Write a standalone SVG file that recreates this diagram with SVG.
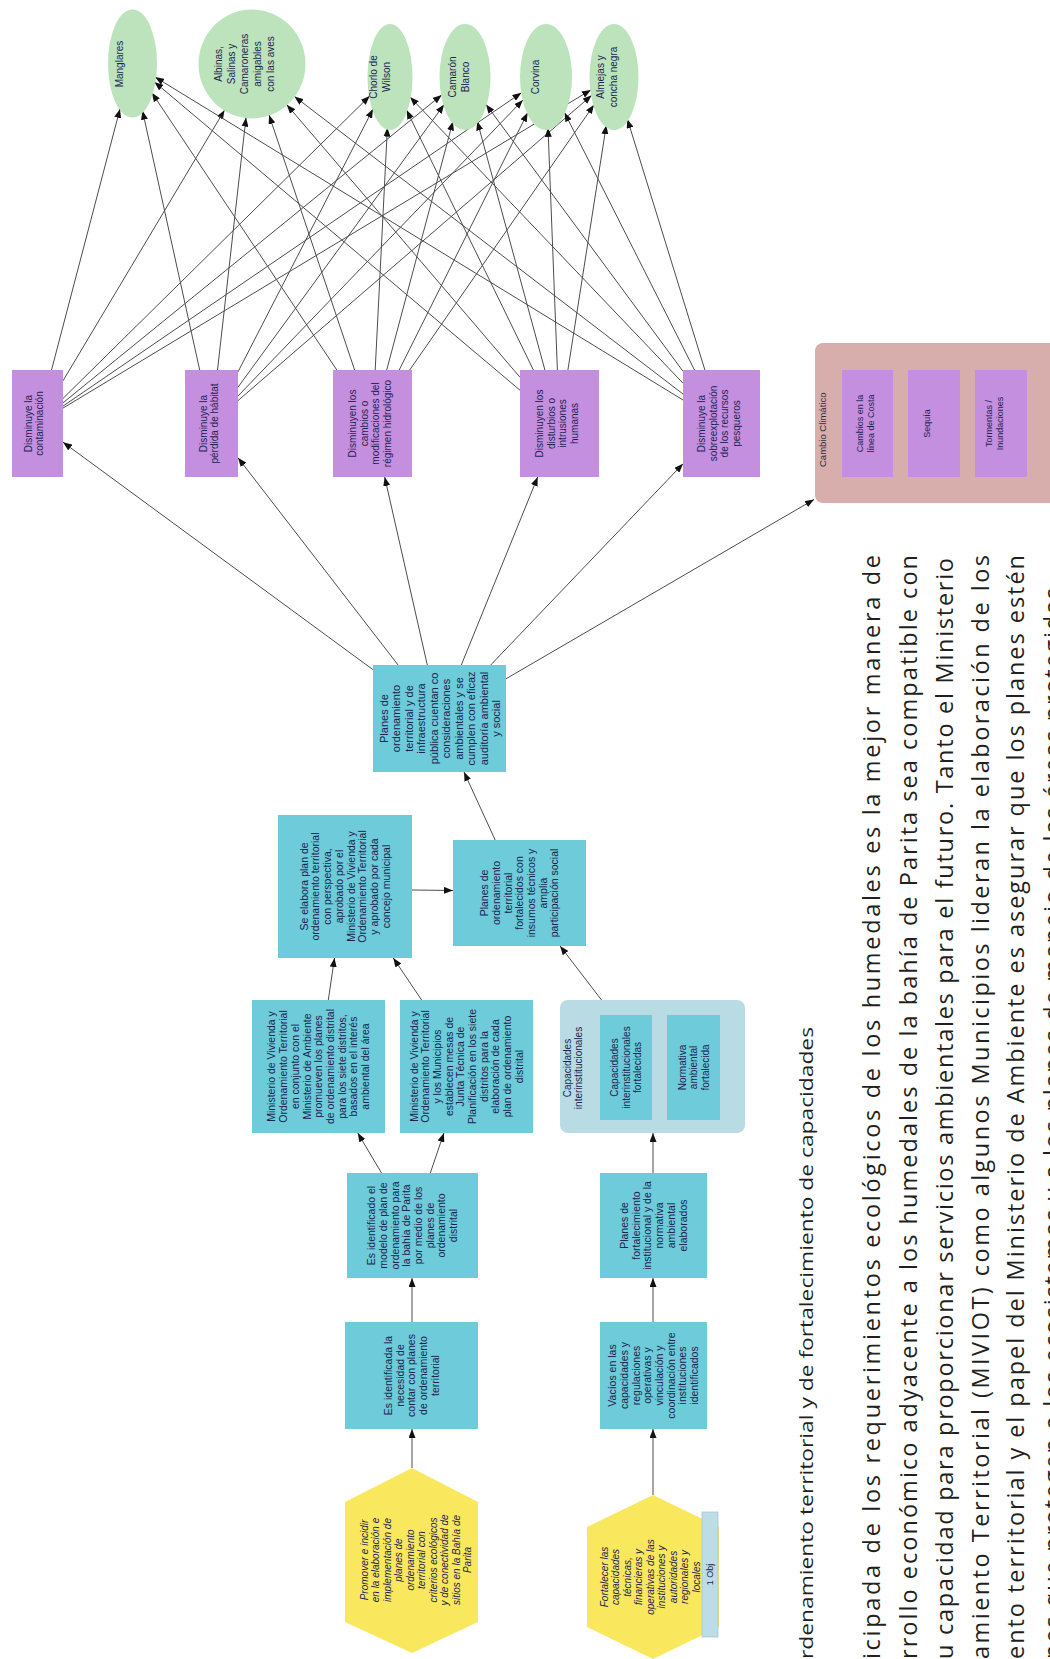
<svg xmlns="http://www.w3.org/2000/svg" width="1050" height="1659" viewBox="0 0 1050 1659">
  <defs>
    <marker id="ah" viewBox="0 0 9 7" refX="9" refY="3.5" markerWidth="9" markerHeight="7" orient="auto" markerUnits="userSpaceOnUse">
      <path d="M0,0 L9,3.5 L0,7 z" fill="#111"/>
    </marker>
    <style>
      .ell { fill:#bce3bc; }
      .pur { fill:#c58fe0; }
      .teal { fill:#6ecbd9; }
      .hex { fill:#f9e75e; }
      .grp-cc { fill:#d7aeab; }
      .grp-cap { fill:#b9dbe3; }
      .obj { fill:#bcdde5; stroke:#a9c9d2; stroke-width:0.8; }
      .t { font-family:"Liberation Sans", Arial, sans-serif; font-size:10.5px; fill:#1b2350; text-anchor:middle; }
      .ts { font-size:10px; }
      .tx { font-size:9px; }
      .ti { font-style:italic; font-size:10px; }
      .tb { font-size:11px; }
      .lbl { font-family:"Liberation Sans", Arial, sans-serif; font-size:9.5px; fill:#2a2a3a; }
      .body { font-family:"Open Sans", "Liberation Sans", sans-serif; fill:#231f20; }
      .conn line { stroke:#4d4d4d; stroke-width:1; fill:none; marker-end:url(#ah); }
    </style>
  </defs>
  <rect width="1050" height="1659" fill="#ffffff"/>

  <!-- connectors -->
  <g id="connectors" class="conn">
    <!-- threats to targets -->
    <line x1="51.5" y1="370" x2="120" y2="108.9"/>
    <line x1="63" y1="380.8" x2="224.5" y2="110.2"/>
    <line x1="63" y1="398.4" x2="369.7" y2="96"/>
    <line x1="63" y1="402.8" x2="441.7" y2="94.9"/>
    <line x1="63" y1="406.1" x2="521.4" y2="92.8"/>
    <line x1="63" y1="408.1" x2="590.9" y2="89.9"/>
    <line x1="199.7" y1="370" x2="142.5" y2="110.7"/>
    <line x1="217.5" y1="370" x2="246" y2="117.6"/>
    <line x1="238" y1="371.9" x2="373" y2="109.1"/>
    <line x1="238" y1="387.2" x2="444.1" y2="104.6"/>
    <line x1="238" y1="396" x2="522.9" y2="100"/>
    <line x1="238" y1="400.6" x2="591.7" y2="95.3"/>
    <line x1="336.8" y1="370" x2="151.9" y2="92.8"/>
    <line x1="354.6" y1="370" x2="269.1" y2="115.1"/>
    <line x1="375.2" y1="370" x2="387.4" y2="127.6"/>
    <line x1="386.7" y1="370" x2="452.9" y2="121.5"/>
    <line x1="399.2" y1="370" x2="527.6" y2="112.8"/>
    <line x1="409.7" y1="370" x2="594" y2="104.8"/>
    <line x1="520" y1="390.2" x2="154.4" y2="81.9"/>
    <line x1="520" y1="377.3" x2="286.8" y2="104.7"/>
    <line x1="533.4" y1="370" x2="406.6" y2="110.1"/>
    <line x1="544.9" y1="370" x2="477.3" y2="121.3"/>
    <line x1="557.4" y1="370" x2="548" y2="127.8"/>
    <line x1="567.9" y1="370" x2="606.3" y2="125.2"/>
    <line x1="683" y1="400" x2="155.1" y2="77.1"/>
    <line x1="683" y1="394" x2="294.4" y2="96.4"/>
    <line x1="683" y1="383.2" x2="410.1" y2="97.1"/>
    <line x1="683" y1="371.3" x2="486" y2="104.4"/>
    <line x1="694.5" y1="370" x2="564.5" y2="112.6"/>
    <line x1="704.9" y1="370" x2="627.4" y2="119.2"/>
    <!-- result to threats -->
    <line x1="373" y1="669.7" x2="63" y2="442.2"/>
    <line x1="398.1" y1="665" x2="238" y2="457.8"/>
    <line x1="427.3" y1="665" x2="384.7" y2="477"/>
    <line x1="461.3" y1="665" x2="537.7" y2="477"/>
    <line x1="490.7" y1="665" x2="683" y2="463.8"/>
    <line x1="506" y1="678.8" x2="814" y2="499.5"/>
    <!-- strategy chains -->
    <line x1="495.2" y1="840" x2="464" y2="772"/>
    <line x1="412" y1="890" x2="453" y2="890.5"/>
    <line x1="601.5" y1="1000" x2="560.1" y2="946"/>
    <line x1="328.3" y1="1000" x2="334.5" y2="958"/>
    <line x1="421.6" y1="1000" x2="393.3" y2="958"/>
    <line x1="381.5" y1="1173" x2="357.8" y2="1133"/>
    <line x1="430.3" y1="1173" x2="443.9" y2="1133"/>
    <line x1="412" y1="1322" x2="412" y2="1278"/>
    <line x1="412" y1="1468" x2="412" y2="1429"/>
    <line x1="653" y1="1173" x2="653" y2="1133"/>
    <line x1="653" y1="1322" x2="653" y2="1278"/>
    <line x1="653" y1="1495" x2="653" y2="1429"/>
  </g>

  <!-- conservation targets -->
  <g id="t-manglares">
    <ellipse class="ell" cx="132.5" cy="63.5" rx="24.5" ry="54"/>
    <text class="t ts" transform="translate(119,64) rotate(-90)" y="3.5">Manglares</text>
  </g>
  <g id="t-albinas">
    <ellipse class="ell" cx="252" cy="64" rx="53.5" ry="54.5"/>
    <text class="t ts" transform="translate(244,64) rotate(-90)" y="-22.5"><tspan x="0">Albinas,</tspan><tspan x="0" dy="13">Salinas y</tspan><tspan x="0" dy="13">Camaroneras</tspan><tspan x="0" dy="13">amigables</tspan><tspan x="0" dy="13">con las aves</tspan></text>
  </g>
  <g id="t-chorlo">
    <ellipse class="ell" cx="390" cy="77" rx="22.5" ry="53"/>
    <text class="t ts" transform="translate(380,77) rotate(-90)" y="-3"><tspan x="0">Chorlo de</tspan><tspan x="0" dy="13">Wilson</tspan></text>
  </g>
  <g id="t-camaron">
    <ellipse class="ell" cx="465" cy="77" rx="25.5" ry="53"/>
    <text class="t ts" transform="translate(459,77) rotate(-90)" y="-3"><tspan x="0">Camarón</tspan><tspan x="0" dy="13">Blanco</tspan></text>
  </g>
  <g id="t-corvina">
    <ellipse class="ell" cx="546" cy="77" rx="26" ry="53"/>
    <text class="t ts" transform="translate(535,77) rotate(-90)" y="3.5">Corvina</text>
  </g>
  <g id="t-almejas">
    <ellipse class="ell" cx="614" cy="77" rx="24.5" ry="53"/>
    <text class="t ts" transform="translate(607,77) rotate(-90)" y="-3"><tspan x="0">Almejas y</tspan><tspan x="0" dy="13">concha negra</tspan></text>
  </g>

  <!-- threats -->
  <g id="a-contaminacion">
    <rect class="pur" x="12" y="370" width="51" height="107"/>
    <text class="t ts" transform="translate(34,423.5) rotate(-90)" y="-2.2"><tspan x="0">Disminuye la</tspan><tspan x="0" dy="11.5">contaminación</tspan></text>
  </g>
  <g id="a-habitat">
    <rect class="pur" x="185" y="370" width="53" height="107"/>
    <text class="t ts" transform="translate(209,423.5) rotate(-90)" y="-2.2"><tspan x="0">Disminuye la</tspan><tspan x="0" dy="11.5">pérdida de hábitat</tspan></text>
  </g>
  <g id="a-hidrologico">
    <rect class="pur" x="333" y="370" width="79" height="107"/>
    <text class="t ts" transform="translate(370,423.5) rotate(-90)" y="-13.7"><tspan x="0">Disminuyen los</tspan><tspan x="0" dy="11.5">cambios o</tspan><tspan x="0" dy="11.5">modificaciones del</tspan><tspan x="0" dy="11.5">régimen hidrológico</tspan></text>
  </g>
  <g id="a-disturbios">
    <rect class="pur" x="520" y="370" width="79" height="107"/>
    <text class="t ts" transform="translate(557,423.5) rotate(-90)" y="-13.7"><tspan x="0">Disminuyen los</tspan><tspan x="0" dy="11.5">disturbios o</tspan><tspan x="0" dy="11.5">intrusiones</tspan><tspan x="0" dy="11.5">humanas</tspan></text>
  </g>
  <g id="a-sobreexplotacion">
    <rect class="pur" x="683" y="370" width="77" height="107"/>
    <text class="t ts" transform="translate(719,423.5) rotate(-90)" y="-13.7"><tspan x="0">Disminuye la</tspan><tspan x="0" dy="11.5">sobreexplotación</tspan><tspan x="0" dy="11.5">de los recursos</tspan><tspan x="0" dy="11.5">pesqueros</tspan></text>
  </g>

  <!-- climate change group -->
  <g id="g-cambio-climatico">
    <rect class="grp-cc" x="815" y="343" width="245" height="160" rx="8"/>
    <text class="lbl" transform="translate(826,467) rotate(-90)">Cambio Climático</text>
    <g id="cc-costa">
      <rect class="pur" x="842" y="370" width="51" height="107"/>
      <text class="t tx" transform="translate(865,423.5) rotate(-90)" y="-2"><tspan x="0">Cambios en la</tspan><tspan x="0" dy="11">línea de Costa</tspan></text>
    </g>
    <g id="cc-sequia">
      <rect class="pur" x="908" y="370" width="52" height="107"/>
      <text class="t tx" transform="translate(927,423.5) rotate(-90)" y="3">Sequía</text>
    </g>
    <g id="cc-tormentas">
      <rect class="pur" x="975" y="370" width="52" height="107"/>
      <text class="t tx" transform="translate(994,423.5) rotate(-90)" y="-2"><tspan x="0">Tormentas /</tspan><tspan x="0" dy="11">Inundaciones</tspan></text>
    </g>
  </g>

  <!-- results -->
  <g id="r-planes-infraestructura">
    <rect class="teal" x="373" y="665" width="133" height="107"/>
    <text class="t tb" transform="translate(440,718.5) rotate(-90)" y="-52.4"><tspan x="0">Planes de</tspan><tspan x="0" dy="12.5">ordenamiento</tspan><tspan x="0" dy="12.5">territorial y de</tspan><tspan x="0" dy="12.5">infraestructura</tspan><tspan x="0" dy="12.5">pública cuentan co</tspan><tspan x="0" dy="12.5">consideraciones</tspan><tspan x="0" dy="12.5">ambientales y se</tspan><tspan x="0" dy="12.5">cumplen con eficaz</tspan><tspan x="0" dy="12.5">auditoría ambiental</tspan><tspan x="0" dy="12.5">y social</tspan></text>
  </g>
  <g id="r-se-elabora">
    <rect class="teal" x="278" y="815" width="134" height="143"/>
    <text class="t" transform="translate(345,886.5) rotate(-90)" y="-37.3"><tspan x="0">Se elabora plan de</tspan><tspan x="0" dy="11.7">ordenamiento territorial</tspan><tspan x="0" dy="11.7">con perspectiva,</tspan><tspan x="0" dy="11.7">aprobado por el</tspan><tspan x="0" dy="11.7">Ministerio de Vivienda y</tspan><tspan x="0" dy="11.7">Ordenamiento Territorial</tspan><tspan x="0" dy="11.7">y aprobado por cada</tspan><tspan x="0" dy="11.7">concejo municipal</tspan></text>
  </g>
  <g id="r-planes-fortalecidos">
    <rect class="teal" x="453" y="840" width="133" height="106"/>
    <text class="t" transform="translate(519.5,893) rotate(-90)" y="-31.4"><tspan x="0">Planes de</tspan><tspan x="0" dy="11.7">ordenamiento</tspan><tspan x="0" dy="11.7">territorial</tspan><tspan x="0" dy="11.7">fortalecidos con</tspan><tspan x="0" dy="11.7">insumos técnicos y</tspan><tspan x="0" dy="11.7">amplia</tspan><tspan x="0" dy="11.7">participación social</tspan></text>
  </g>
  <g id="r-ministerio-ambiente">
    <rect class="teal" x="252" y="1000" width="133" height="133"/>
    <text class="t" transform="translate(318.5,1066.5) rotate(-90)" y="-43.1"><tspan x="0">Ministerio de Vivienda y</tspan><tspan x="0" dy="11.7">Ordenamiento Territorial</tspan><tspan x="0" dy="11.7">en conjunto con el</tspan><tspan x="0" dy="11.7">Ministerio de Ambiente</tspan><tspan x="0" dy="11.7">promueven los planes</tspan><tspan x="0" dy="11.7">de ordenamiento distrital</tspan><tspan x="0" dy="11.7">para los siete distritos,</tspan><tspan x="0" dy="11.7">basados en el interés</tspan><tspan x="0" dy="11.7">ambiental del área</tspan></text>
  </g>
  <g id="r-mesas-tecnicas">
    <rect class="teal" x="400" y="1000" width="133" height="133"/>
    <text class="t" transform="translate(466.5,1066.5) rotate(-90)" y="-49"><tspan x="0">Ministerio de Vivienda y</tspan><tspan x="0" dy="11.7">Ordenamiento Territorial</tspan><tspan x="0" dy="11.7">y los Municipios</tspan><tspan x="0" dy="11.7">establecen mesas de</tspan><tspan x="0" dy="11.7">Junta Técnica de</tspan><tspan x="0" dy="11.7">Planificación en los siete</tspan><tspan x="0" dy="11.7">distritos para la</tspan><tspan x="0" dy="11.7">elaboración de cada</tspan><tspan x="0" dy="11.7">plan de ordenamiento</tspan><tspan x="0" dy="11.7">distrital</tspan></text>
  </g>
  <g id="r-modelo-plan">
    <rect class="teal" x="347" y="1173" width="131" height="105"/>
    <text class="t" transform="translate(412.5,1225.5) rotate(-90)" y="-37.3"><tspan x="0">Es identificado el</tspan><tspan x="0" dy="11.7">modelo de plan de</tspan><tspan x="0" dy="11.7">ordenamiento para</tspan><tspan x="0" dy="11.7">la bahía de Parita</tspan><tspan x="0" dy="11.7">por medio de los</tspan><tspan x="0" dy="11.7">planes de</tspan><tspan x="0" dy="11.7">ordenamiento</tspan><tspan x="0" dy="11.7">distrital</tspan></text>
  </g>
  <g id="r-necesidad">
    <rect class="teal" x="345" y="1322" width="133" height="107"/>
    <text class="t" transform="translate(411.5,1375.5) rotate(-90)" y="-19.7"><tspan x="0">Es identificada la</tspan><tspan x="0" dy="11.7">necesidad de</tspan><tspan x="0" dy="11.7">contar con planes</tspan><tspan x="0" dy="11.7">de ordenamiento</tspan><tspan x="0" dy="11.7">territorial</tspan></text>
  </g>

  <!-- institutional capacity chain -->
  <g id="g-capacidades">
    <rect class="grp-cap" x="560" y="1000" width="185" height="133" rx="8"/>
    <text class="t ts" transform="translate(573,1068) rotate(-90)" y="-2.2"><tspan x="0">Capacidades</tspan><tspan x="0" dy="11.5">interinstitucionales</tspan></text>
    <g id="r-capacidades-fortalecidas">
      <rect class="teal" x="600" y="1015" width="52" height="105"/>
      <text class="t ts" transform="translate(626,1067.5) rotate(-90)" y="-8"><tspan x="0">Capacidades</tspan><tspan x="0" dy="11.5">interinstitucionales</tspan><tspan x="0" dy="11.5">fortalecidas</tspan></text>
    </g>
    <g id="r-normativa">
      <rect class="teal" x="667" y="1015" width="53" height="105"/>
      <text class="t ts" transform="translate(693.5,1067.5) rotate(-90)" y="-8"><tspan x="0">Normativa</tspan><tspan x="0" dy="11.5">ambiental</tspan><tspan x="0" dy="11.5">fortalecida</tspan></text>
    </g>
  </g>
  <g id="r-planes-fortalecimiento">
    <rect class="teal" x="600" y="1173" width="107" height="105"/>
    <text class="t" transform="translate(653.5,1225.5) rotate(-90)" y="-25.5"><tspan x="0">Planes de</tspan><tspan x="0" dy="11.7">fortalecimiento</tspan><tspan x="0" dy="11.7">institucional y de la</tspan><tspan x="0" dy="11.7">normativa</tspan><tspan x="0" dy="11.7">ambiental</tspan><tspan x="0" dy="11.7">elaborados</tspan></text>
  </g>
  <g id="r-vacios">
    <rect class="teal" x="600" y="1322" width="107" height="107"/>
    <text class="t" transform="translate(653.5,1375.5) rotate(-90)" y="-37.3"><tspan x="0">Vacíos en las</tspan><tspan x="0" dy="11.7">capacidades y</tspan><tspan x="0" dy="11.7">regulaciones</tspan><tspan x="0" dy="11.7">operativas y</tspan><tspan x="0" dy="11.7">vinculación y</tspan><tspan x="0" dy="11.7">coordinación entre</tspan><tspan x="0" dy="11.7">instituciones</tspan><tspan x="0" dy="11.7">identificados</tspan></text>
  </g>

  <!-- strategies -->
  <g id="s-promover">
    <polygon class="hex" points="412,1468 478,1502 478,1622 412,1653 345,1622 345,1502"/>
    <text class="t ti" transform="translate(416,1560) rotate(-90)" y="-48.3"><tspan x="0">Promover e incidir</tspan><tspan x="0" dy="11.5">en la elaboración e</tspan><tspan x="0" dy="11.5">implementación de</tspan><tspan x="0" dy="11.5">planes de</tspan><tspan x="0" dy="11.5">ordenamiento</tspan><tspan x="0" dy="11.5">territorial con</tspan><tspan x="0" dy="11.5">criterios ecológicos</tspan><tspan x="0" dy="11.5">y de conectividad de</tspan><tspan x="0" dy="11.5">sitios en la Bahía de</tspan><tspan x="0" dy="11.5">Parita</tspan></text>
  </g>
  <g id="s-fortalecer">
    <polygon class="hex" points="653,1495 719,1527 719,1627 653,1659 587,1627 587,1527"/>
    <text class="t ti" transform="translate(650,1577) rotate(-90)" y="-42.5"><tspan x="0">Fortalecer las</tspan><tspan x="0" dy="11.5">capacidades</tspan><tspan x="0" dy="11.5">técnicas,</tspan><tspan x="0" dy="11.5">financieras y</tspan><tspan x="0" dy="11.5">operativas de las</tspan><tspan x="0" dy="11.5">instituciones y</tspan><tspan x="0" dy="11.5">autoridades</tspan><tspan x="0" dy="11.5">regionales y</tspan><tspan x="0" dy="11.5">locales</tspan></text>
  </g>
  <g id="obj-1">
    <rect class="obj" x="702" y="1512" width="16" height="125"/>
    <text class="t tx" transform="translate(710,1574.5) rotate(-90)" y="3">1 Obj</text>
  </g>

  <!-- caption and body text -->
  <g id="caption">
    <text class="body" font-size="19" transform="translate(813,1659) rotate(-90)" textLength="632" lengthAdjust="spacingAndGlyphs">rdenamiento territorial y de fortalecimiento de capacidades</text>
  </g>
  <g id="body-text" font-size="23.5">
    <text class="body" transform="translate(880,1659) rotate(-90)" textLength="1104" lengthAdjust="spacing">icipada de los requerimientos ecológicos de los humedales es la mejor manera de</text>
    <text class="body" transform="translate(917,1659) rotate(-90)" textLength="1104" lengthAdjust="spacing">rrollo económico adyacente a los humedales de la bahía de Parita sea compatible con</text>
    <text class="body" transform="translate(953,1659) rotate(-90)" textLength="1101" lengthAdjust="spacing">u capacidad para proporcionar servicios ambientales para el futuro. Tanto el Ministerio</text>
    <text class="body" transform="translate(989,1659) rotate(-90)" textLength="1104" lengthAdjust="spacing">amiento Territorial (MIVIOT) como algunos Municipios lideran la elaboración de los</text>
    <text class="body" transform="translate(1024,1659) rotate(-90)" textLength="1104" lengthAdjust="spacing">ento territorial y el papel del Ministerio de Ambiente es asegurar que los planes estén</text>
    <text class="body" transform="translate(1061,1659) rotate(-90)" textLength="1071" lengthAdjust="spacing">nes que protegen a los ecosistemas y a los planes de manejo de las áreas protegidas</text>
  </g>
</svg>
